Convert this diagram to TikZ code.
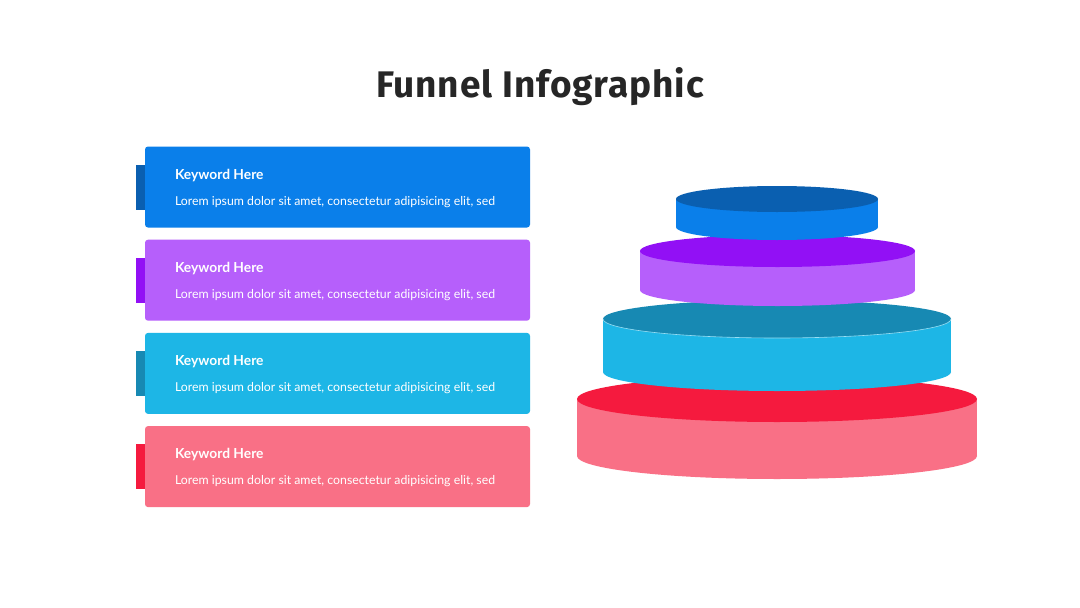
\documentclass[tikz,border=0pt]{standalone}
\usepackage{fontspec}
\setmainfont{Lato}
\newfontfamily\titlefont[LetterSpace=2.5]{Fira Sans}
\usetikzlibrary{positioning,calc}

\definecolor{blueside}{HTML}{0A7FEA}
\definecolor{bluetop}{HTML}{0A5FB0}
\definecolor{purpleside}{HTML}{B65FFB}
\definecolor{purpletop}{HTML}{9210F5}
\definecolor{tealside}{HTML}{1DB6E6}
\definecolor{tealtop}{HTML}{1789B3}
\definecolor{redside}{HTML}{F97086}
\definecolor{redtop}{HTML}{F51A3E}
\definecolor{titlegray}{HTML}{262626}

\tikzset{
  keybox/.style={rounded corners=3pt, minimum width=385pt, minimum height=81pt, inner sep=0pt},
  keytab/.style={minimum width=9pt, minimum height=45pt, inner sep=0pt},
  keyword/.style={font=\bfseries\fontsize{13.8}{15}\selectfont, text=white, inner sep=0pt, anchor=base west},
  lorem/.style={font=\fontsize{12.3}{14}\selectfont, text=white, inner sep=0pt, anchor=base west},
}

\begin{document}
\begin{tikzpicture}[x=1pt, y=-1pt]
    \useasboundingbox[fill=white] (0,0) rectangle (1080,608);

    % 1. title
    \node[font=\titlefont\bfseries\fontsize{37}{40}\selectfont, text=titlegray, anchor=base] (title) at (540,97) {Funnel Infographic};

    % 2. keyword boxes with side tabs
    \foreach \i/\side/\tab in {0/blueside/bluetop, 1/purpleside/purpletop, 2/tealside/tealtop, 3/redside/redtop} {
        \pgfmathsetmacro\yc{187+93.2*\i}
        \node[keybox, fill=\side] (box\i) at (337.5,\yc) {};
        \node[keytab, fill=\tab, left=0pt of box\i] (tab\i) {};
        \node[keyword] (key\i) at ($(box\i.north west)+(30,33)$) {Keyword Here};
        \node[lorem] (text\i) at ($(box\i.north west)+(30,59)$) {Lorem ipsum dolor sit amet, consectetur adipisicing elit, sed};
    }

    % 3. stacked cylinders, bottom one first
    \foreach \cx/\cy/\rx/\ry/\h/\side/\top in {777/399/200/23/57/redside/redtop, 777/319/174/19/53/tealside/tealtop, 777.5/251/137.5/16/39/purpleside/purpletop, 777/199/101/13/28/blueside/bluetop} {
        \fill[\side] (\cx,\cy+\h) ellipse [x radius=\rx pt, y radius=\ry pt];
        \fill[\side] (\cx-\rx,\cy) rectangle (\cx+\rx,\cy+\h);
        \fill[\top] (\cx,\cy) ellipse [x radius=\rx pt, y radius=\ry pt];
    }
    % light rim on the teal top
    \draw[white!55!tealside, line width=0.6pt] (603,319) arc[start angle=180, end angle=360, x radius=174pt, y radius=19pt];
\end{tikzpicture}
\end{document}
